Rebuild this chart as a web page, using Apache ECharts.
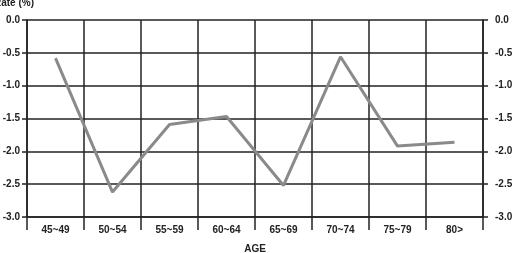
<!DOCTYPE html>
<html><head><meta charset="utf-8">
<script src="https://cdn.jsdelivr.net/npm/echarts@6/dist/echarts.min.js"></script>
<style>html,body{margin:0;padding:0;background:#fff}#c{width:517px;height:253px}</style>
</head><body><div id="c"></div>
<script>
const categories = ['45~49','50~54','55~59','60~64','65~69','70~74','75~79','80>'];
const rateValues = [-0.58, -2.62, -1.59, -1.47, -2.52, -0.56, -1.92, -1.86];
const yTicks = {min: -3, max: 0, interval: 0.5};
const FONT = '"Liberation Sans Narrow", "Liberation Sans", Arial, sans-serif';
const chart = echarts.init(document.getElementById('c'));
const yAxisBase = (pos, margin) => ({
  type: 'value', position: pos, min: yTicks.min, max: yTicks.max, interval: yTicks.interval,
  axisLine: {show: true, lineStyle: {color: '#222', width: 1.5}},
  axisTick: {show: true, length: 5, lineStyle: {color: '#222', width: 1.5}},
  splitLine: {show: pos === 'left', lineStyle: {color: '#222', width: 1.5}},
  axisLabel: {color: '#222', fontFamily: FONT, fontWeight: 'bold', fontSize: 10, margin: margin,
    formatter: v => v.toFixed(1)}
});
chart.setOption({
  animation: false,
  grid: {left: 27, right: 34, top: 20, bottom: 36, outerBoundsMode: 'none', containLabel: false},
  graphic: [{type: 'text', x: -6, y: -2, style: {text: 'Rate (%)', font: 'bold 10px ' + FONT, fill: '#222'}}],
  xAxis: {
    type: 'category', data: categories, boundaryGap: true, position: 'bottom',
    name: 'AGE', nameLocation: 'middle', nameGap: 27,
    nameTextStyle: {color: '#222', fontFamily: FONT, fontWeight: 'bold', fontSize: 10},
    axisLine: {show: true, onZero: false, lineStyle: {color: '#222', width: 1.5}},
    axisTick: {show: true, length: 13, alignWithLabel: false, lineStyle: {color: '#222', width: 1.5}},
    splitLine: {show: true, lineStyle: {color: '#222', width: 1.5}},
    axisLabel: {color: '#222', fontFamily: FONT, fontWeight: 'bold', fontSize: 10, margin: 8}
  },
  yAxis: [yAxisBase('left', 7), yAxisBase('right', 12)],
  series: [{
    type: 'line', data: rateValues, symbol: 'none',
    lineStyle: {color: '#8a8a8a', width: 3}
  }]
});
</script></body></html>
